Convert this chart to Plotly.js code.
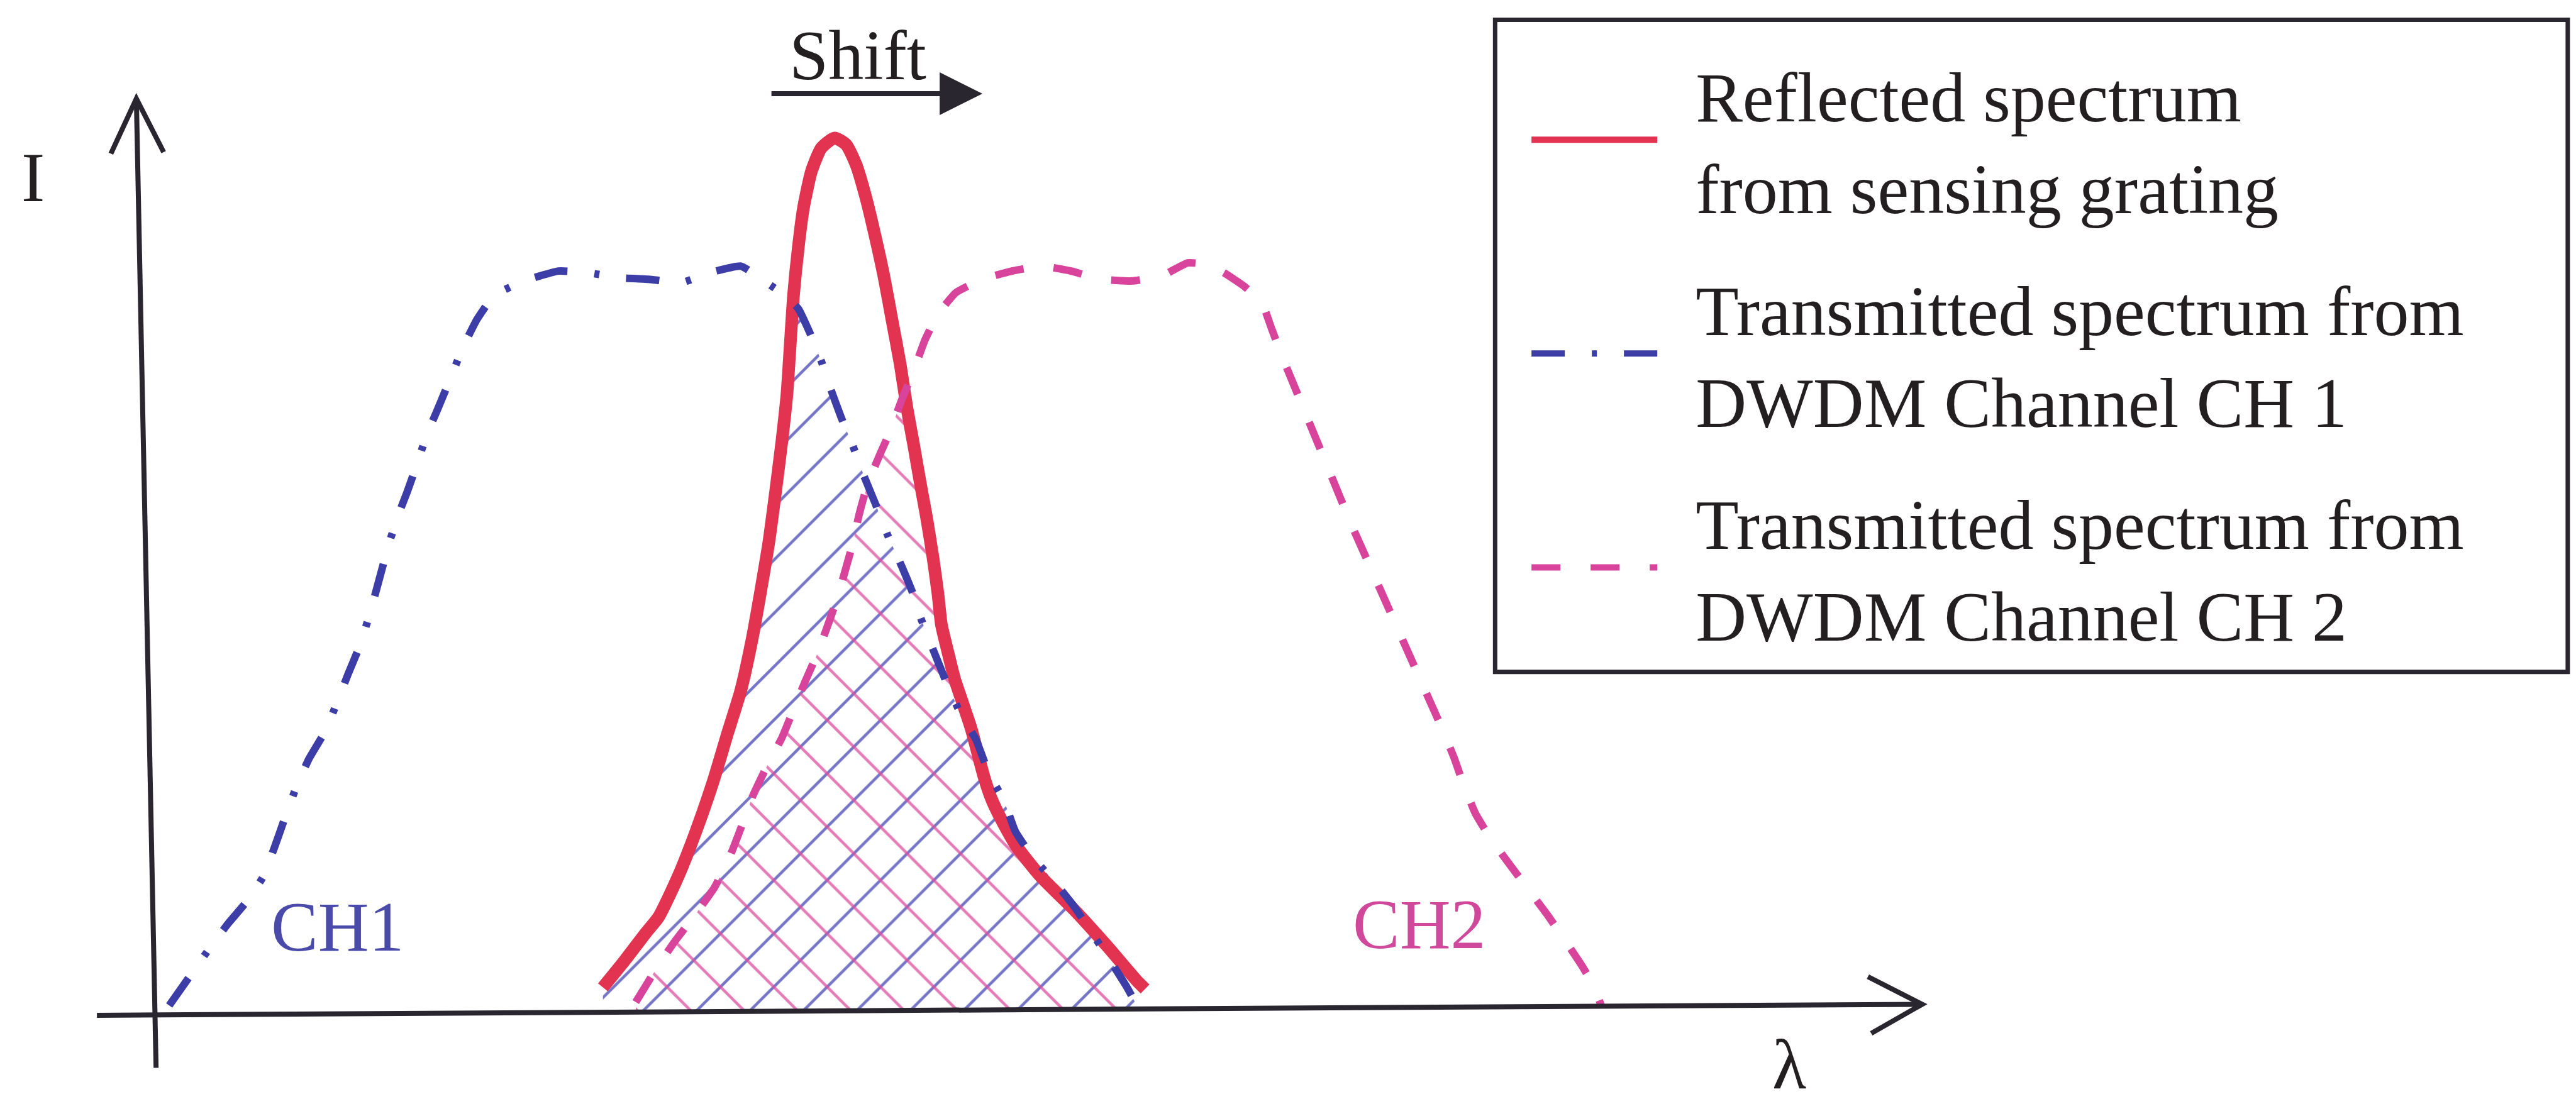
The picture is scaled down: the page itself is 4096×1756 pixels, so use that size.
<!DOCTYPE html>
<html>
<head>
<meta charset="utf-8">
<script src="https://cdn.plot.ly/plotly-3.0.1.min.js"></script>
<style>
html,body{margin:0;padding:0;background:#ffffff;}
#chart{width:4096px;height:1756px;}
</style>
</head>
<body>
<div id="chart"></div>
<script>
// ---- data (arbitrary units: lambda along x, intensity I along y; origin at axis crossing) ----
// Reflected spectrum from sensing grating
const redLambda = [367,380,393,401,413,424,434,443,451,458,463,468,472,476,479,481,483,486,489,494,500,508,515,521,527,533,538,543,548,552,556,560,564,568,571,573,577,581,586,591,595,599,603,608,618,633,655,674,692,697];
const redI      = [14,30,47,57,82,110,139,169,195,227,255,285,315,347,375,405,435,465,488,511,525,531,527,515,495,470,447,420,393,367,345,322,300,275,253,235,218,202,187,172,157,142,130,119,101,82,60,39,18,13];

// Transmitted spectrum, DWDM channel CH 1
const ch1Lambda = [103,115,127,139,150,160,167,173,180,188,198,205,212,219,225,231,237,243,248,254,260,266,271,282,290,296,302,319,340,358,376,395,415,432,451,468,478,486,494,500,505,512,519,526,533,540,549,556,560,569,578,586,594,602,611,618,628,642,654,664,674,686,692];
const ch1I      = [3,20,37,53,66,81,99,116,135,153,170,187,205,222,241,263,285,303,316,333,351,365,377,404,420,429,436,444,450,449,446,445,443,449,453,442,435,427,410,395,380,361,344,325,308,290,270,253,240,217,195,178,165,144,128,109,94,78,63,48,33,14,3];

// Transmitted spectrum, DWDM channel CH 2
const ch2Lambda = [387,398,410,423,435,444,451,458,467,476,483,490,497,503,509,514,519,523,528,535,542,549,556,563,571,582,598,616,634,652,670,689,707,723,735,745,757,768,774,780,787,794,801,808,815,822,830,838,846,854,862,870,878,885,891,898,907,918,930,942,953,963,970,975];
const ch2I      = [5,23,41,58,75,93,111,130,149,166,183,200,216,232,249,266,284,302,320,337,353,372,389,408,424,437,445,450,453,450,445,444,447,455,454,449,441,431,415,399,382,365,348,331,314,297,279,261,243,225,207,189,171,154,137,120,105,90,74,58,42,27,15,2];

const seriesNames = [
  'Reflected spectrum<br>from sensing grating',
  'Transmitted spectrum from<br>DWDM Channel CH 1',
  'Transmitted spectrum from<br>DWDM Channel CH 2'
];
const channelLabels = ['CH1', 'CH2'];
const axisLabels = {y: 'I', x: '\u03bb'};
const shiftLabel = 'Shift';

// ---- styles ----
const SERIF = 'Liberation Serif, Times New Roman, serif';
const TEXT = '#231f20';
const AXIS = '#2a2630';
const RED = '#e23450';
const BLUE = '#3d3da8';
const PINK = '#d8439b';
const FS = 112;

// ---- overlap regions (built from the curves above) ----
function segX(p1, p2, p3, p4) {
  const d = (p2[0]-p1[0])*(p4[1]-p3[1]) - (p2[1]-p1[1])*(p4[0]-p3[0]);
  if (Math.abs(d) < 1e-12) return null;
  const t = ((p3[0]-p1[0])*(p4[1]-p3[1]) - (p3[1]-p1[1])*(p4[0]-p3[0])) / d;
  const u = ((p3[0]-p1[0])*(p2[1]-p1[1]) - (p3[1]-p1[1])*(p2[0]-p1[0])) / d;
  if (t < 0 || t > 1 || u < 0 || u > 1) return null;
  return [p1[0] + t*(p2[0]-p1[0]), p1[1] + t*(p2[1]-p1[1])];
}
function firstCrossing(ax, ay, a0, a1, bx, by, b0, b1) {
  for (let i = a0; i < a1; i++) {
    for (let j = b0; j < b1; j++) {
      const p = segX([ax[i],ay[i]],[ax[i+1],ay[i+1]],[bx[j],by[j]],[bx[j+1],by[j+1]]);
      if (p) return p;
    }
  }
  return null;
}
const argmax = a => a.indexOf(Math.max(...a));
const rPk = argmax(redI), c1Pk = argmax(ch1I), c2Pk = argmax(ch2I);

// CH1 overlap: red rising edge meets CH1 falling edge
const P1 = firstCrossing(redLambda, redI, 0, rPk, ch1Lambda, ch1I, c1Pk, ch1Lambda.length-1);
const ov1x = [], ov1y = [];
redLambda.forEach((x,i) => { if (x < P1[0]) { ov1x.push(x); ov1y.push(redI[i]); } });
ov1x.push(P1[0]); ov1y.push(P1[1]);
ch1Lambda.forEach((x,i) => { if (x > P1[0]) { ov1x.push(x); ov1y.push(ch1I[i]); } });

// CH2 overlap: CH2 rising edge meets red falling edge
const P2 = firstCrossing(ch2Lambda, ch2I, 0, c2Pk, redLambda, redI, rPk, redLambda.length-1);
const ov2x = [], ov2y = [];
ch2Lambda.forEach((x,i) => { if (x < P2[0]) { ov2x.push(x); ov2y.push(ch2I[i]); } });
ov2x.push(P2[0]); ov2y.push(P2[1]);
redLambda.forEach((x,i) => { if (x > P2[0]) { ov2x.push(x); ov2y.push(redI[i]); } });

const pad = s => '\u00a0\u00a0' + s.replace('<br>', '<br>\u00a0\u00a0');

const traces = [
  {x: ov1x, y: ov1y, mode: 'none', fill: 'tozeroy', fillcolor: 'rgba(0,0,0,0)',
   fillpattern: {shape: '/', fgcolor: '#4646b4', bgcolor: 'rgba(0,0,0,0)', size: 60, solidity: 0.075, fgopacity: 0.75},
   showlegend: false, hoverinfo: 'skip'},
  {x: ov2x, y: ov2y, mode: 'none', fill: 'tozeroy', fillcolor: 'rgba(0,0,0,0)',
   fillpattern: {shape: '\\', fgcolor: '#dd4f9e', bgcolor: 'rgba(0,0,0,0)', size: 60, solidity: 0.075, fgopacity: 0.75},
   showlegend: false, hoverinfo: 'skip'},
  {x: redLambda, y: redI, mode: 'lines', name: pad(seriesNames[0]),
   legendgroup: 'g1', line: {color: RED, width: 20, shape: 'spline', smoothing: 0.6}},
  {x: ch1Lambda, y: ch1I, mode: 'lines', name: pad(seriesNames[1]),
   legendgroup: 'g2', line: {color: BLUE, width: 12, dash: '53px,43px,8px,43px', shape: 'spline', smoothing: 0.4}},
  {x: ch2Lambda, y: ch2I, mode: 'lines', name: pad(seriesNames[2]),
   legendgroup: 'g3', line: {color: PINK, width: 12, dash: '46px,48px', shape: 'spline', smoothing: 0.4}}
];

const txt = (x, y, text, color) => ({
  x: x, y: y, xref: 'x', yref: 'y', text: text, showarrow: false,
  xanchor: 'center', yanchor: 'middle',
  font: {family: SERIF, size: FS, color: color || TEXT}
});

const layout = {
  width: 4096, height: 1756,
  margin: {l: 0, r: 0, t: 0, b: 0, pad: 0},
  paper_bgcolor: '#ffffff', plot_bgcolor: '#ffffff',
  xaxis: {range: [0, 1568], visible: false, fixedrange: true},
  yaxis: {range: [-57, 615], visible: false, fixedrange: true},
  showlegend: true,
  legend: {
    x: 0.5933, y: 0.9601, xanchor: 'left', yanchor: 'top',
    bgcolor: 'rgba(0,0,0,0)', borderwidth: 0,
    font: {family: SERIF, size: FS, color: TEXT},
    itemwidth: 200, traceorder: 'grouped', tracegroupgap: 46
  },
  shapes: [
    // legend frame
    {type: 'rect', xref: 'paper', yref: 'paper', x0: 0.5804, x1: 0.9968, y0: 0.3914, y1: 0.9821,
     line: {color: AXIS, width: 7}, fillcolor: 'rgba(0,0,0,0)'},
    // intensity axis with open arrow head
    {type: 'line', xref: 'x', yref: 'y', x0: 95, y0: -35, x1: 83, y1: 555, line: {color: AXIS, width: 8}},
    {type: 'path', xref: 'x', yref: 'y', path: 'M67.5,521.5 L83,555 L99.6,522.4', line: {color: AXIS, width: 8}},
    // wavelength axis with open arrow head
    {type: 'line', xref: 'x', yref: 'y', x0: 59, y0: -3, x1: 1170, y1: 3.7, line: {color: AXIS, width: 8}},
    {type: 'path', xref: 'x', yref: 'y', path: 'M1137,20.5 L1170,3.7 L1139,-14', line: {color: AXIS, width: 8}}
  ],
  annotations: [
    txt(20, 507, axisLabels.y),
    txt(1089, -33, axisLabels.x),
    txt(522, 581.5, shiftLabel),
    txt(205.5, 51, channelLabels[0], '#4a4aab'),
    txt(864, 52.5, channelLabels[1], '#d0489c'),
    {x: 598, y: 558, ax: 469, ay: 558, xref: 'x', yref: 'y', axref: 'x', ayref: 'y',
     text: '', showarrow: true, arrowhead: 2, arrowsize: 1.7, arrowwidth: 8, arrowcolor: AXIS}
  ]
};

Plotly.newPlot('chart', traces, layout, {staticPlot: true, displayModeBar: false});
</script>
</body>
</html>
